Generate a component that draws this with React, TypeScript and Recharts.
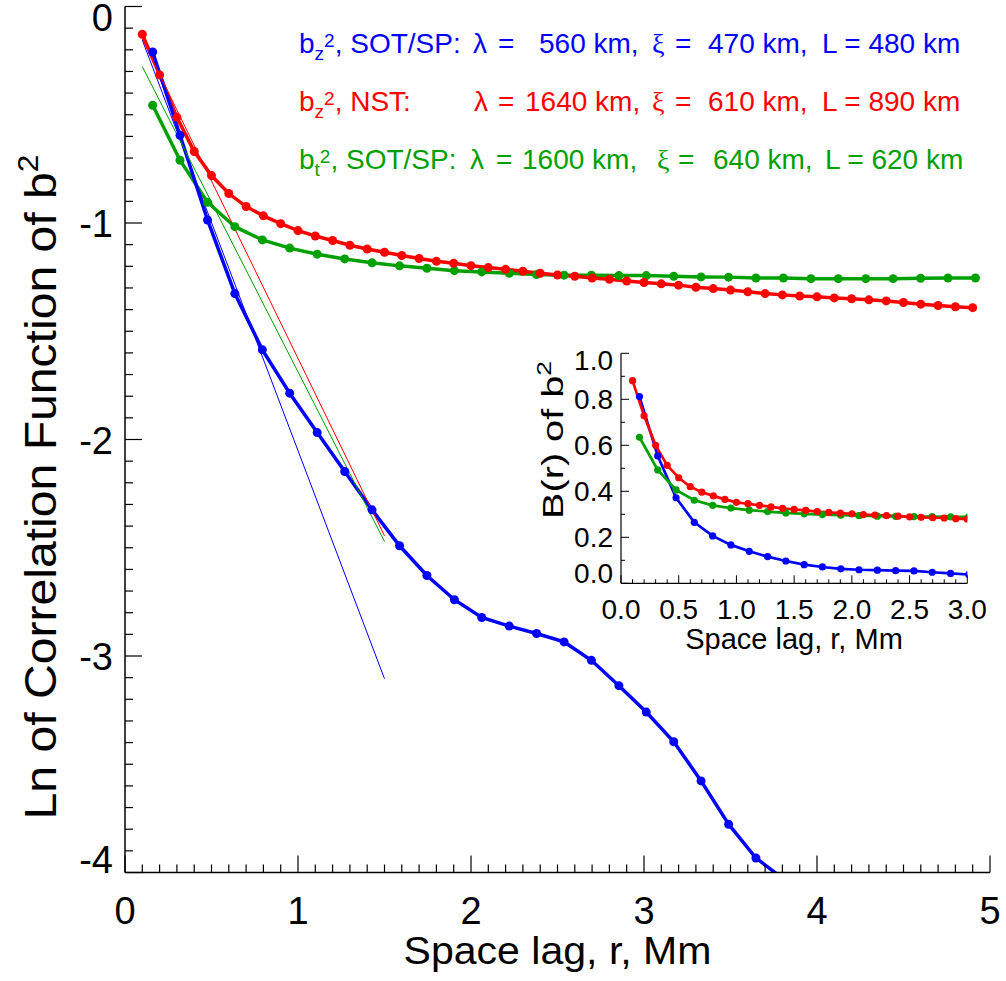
import { LineChart, Line, XAxis, YAxis } from "recharts";

// space lag (Mm) of the NST series, 0.1 Mm steps
const nstLag = [
  0.1, 0.2, 0.3, 0.4, 0.5, 0.6, 0.7, 0.8, 0.9, 1.0,
  1.1, 1.2, 1.3, 1.4, 1.5, 1.6, 1.7, 1.8, 1.9, 2.0,
  2.1, 2.2, 2.3, 2.4, 2.5, 2.6, 2.7, 2.8, 2.9, 3.0,
  3.1, 3.2, 3.3, 3.4, 3.5, 3.6, 3.7, 3.8, 3.9, 4.0,
  4.1, 4.2, 4.3, 4.4, 4.5, 4.6, 4.7, 4.8, 4.9,
];
// ln B(r) of bz^2, NST
const nstLn = [
  -0.128, -0.316, -0.512, -0.67, -0.781, -0.864, -0.924, -0.967, -1.003, -1.035,
  -1.06, -1.081, -1.103, -1.12, -1.135, -1.15, -1.164, -1.177, -1.186, -1.197,
  -1.206, -1.214, -1.223, -1.232, -1.24, -1.246, -1.254, -1.26, -1.268, -1.275,
  -1.281, -1.287, -1.297, -1.303, -1.31, -1.318, -1.326, -1.332, -1.337, -1.341,
  -1.346, -1.35, -1.355, -1.36, -1.367, -1.375, -1.381, -1.387, -1.391,
];

// space lag (Mm) of the SOT/SP series
const spLag = [
  0.16, 0.318, 0.477, 0.635, 0.794, 0.952, 1.111, 1.27, 1.428, 1.587,
  1.745, 1.904, 2.062, 2.221, 2.379, 2.538, 2.696, 2.855, 3.013, 3.172,
  3.33, 3.489, 3.647, 3.806, 3.965, 4.123, 4.282, 4.44, 4.599, 4.757, 4.916,
];
// ln B(r) of bz^2, SOT/SP
const bzSpLn = [
  -0.21, -0.595, -0.986, -1.326, -1.586, -1.786, -1.968, -2.148, -2.325, -2.491,
  -2.628, -2.74, -2.822, -2.862, -2.896, -2.935, -3.02, -3.137, -3.259, -3.396,
  -3.577, -3.777, -3.933, -4.03,
];
// ln B(r) of bt^2, SOT/SP
const btSpLn = [
  -0.456, -0.71, -0.904, -1.017, -1.078, -1.116, -1.144, -1.166, -1.184, -1.198,
  -1.209, -1.22, -1.226, -1.232, -1.238, -1.241, -1.241, -1.243, -1.243, -1.246,
  -1.249, -1.25, -1.254, -1.254, -1.257, -1.257, -1.257, -1.257, -1.255, -1.254, -1.254,
];

// straight-line fits (end points)
const fitLag = [0.1, 1.5];
const bzSpFit = [-0.155, -3.105];
const nstFit = [-0.15, -2.445];
const btSpFit = [-0.278, -2.471];

// inset: B(r) itself, up to 3 Mm
const nstB = [
  0.881, 0.728, 0.6, 0.513, 0.459, 0.42, 0.396, 0.38, 0.365, 0.352,
  0.346, 0.339, 0.332, 0.326, 0.321, 0.317, 0.312, 0.308, 0.305, 0.302,
  0.299, 0.297, 0.294, 0.292, 0.289, 0.287, 0.285, 0.284, 0.281, 0.279,
];
const bzSpB = [
  0.812, 0.554, 0.372, 0.265, 0.206, 0.167, 0.139, 0.116, 0.097, 0.081,
  0.071, 0.063, 0.059, 0.057, 0.055, 0.054, 0.048, 0.043, 0.038,
];
const btSpB = [
  0.635, 0.493, 0.406, 0.361, 0.339, 0.327, 0.318, 0.312, 0.306, 0.302,
  0.299, 0.296, 0.294, 0.292, 0.291, 0.29, 0.29, 0.289, 0.289,
];

const legendRows = [
  { name: "SOT/SP:", sub: "z", color: "#0000ff", lambda: "560 km,", xi: "470 km,", L: "L = 480 km" },
  { name: "NST:", sub: "z", color: "#ff0000", lambda: "1640 km,", xi: "610 km,", L: "L = 890 km" },
  { name: "SOT/SP:", sub: "t", color: "#00a000", lambda: "1600 km,", xi: "640 km,", L: "L = 620 km" },
];

const BLUE = "#0000ff";
const RED = "#ff0000";
const GREEN = "#00a000";
const FONT = "'Liberation Sans', Arial, Helvetica, sans-serif";

const pts = (xs: number[], ys: number[]) => ys.map((y, i) => ({ x: xs[i], y }));

const mainXTicks = Array.from({ length: 51 }, (_, i) => i / 10);
const mainYTicks = Array.from({ length: 41 }, (_, i) => -i / 10);
const insetXTicks = Array.from({ length: 31 }, (_, i) => i / 10);
const insetYTicks = Array.from({ length: 11 }, (_, i) => i / 10);

// ticks point into the plot, labels only on the majors
const mainBottomTick = (p: any) => {
  const v = p.payload.value;
  const major = Math.round(v * 10) % 10 === 0;
  return (
    <g>
      <line x1={p.x} x2={p.x} y1={p.y} y2={p.y - (major ? 17 : 8)} stroke="#000" strokeWidth={1.2} />
      {major && (
        <text x={p.x} y={p.y + 51.5} textAnchor="middle" fontSize={38} fontFamily={FONT} fill="#000">
          {String(v)}
        </text>
      )}
    </g>
  );
};
const mainTopTick = (p: any) => {
  const major = Math.round(p.payload.value * 10) % 10 === 0;
  return <line x1={p.x} x2={p.x} y1={p.y} y2={p.y + (major ? 17 : 8)} stroke="#000" strokeWidth={1.2} />;
};
const mainLeftTick = (p: any) => {
  const v = p.payload.value;
  const major = Math.round(v * 10) % 10 === 0;
  const dy = v === 0 ? 24.5 : v === -4 ? 0 : 14;
  return (
    <g>
      <line x1={p.x} x2={p.x + (major ? 17 : 8)} y1={p.y} y2={p.y} stroke="#000" strokeWidth={1.2} />
      {major && (
        <text x={p.x - 12} y={p.y + dy} textAnchor="end" fontSize={38} fontFamily={FONT} fill="#000">
          {String(v)}
        </text>
      )}
    </g>
  );
};
const mainRightTick = (p: any) => {
  const major = Math.round(p.payload.value * 10) % 10 === 0;
  return <line x1={p.x} x2={p.x - (major ? 17 : 8)} y1={p.y} y2={p.y} stroke="#000" strokeWidth={1.2} />;
};

const insetBottomTick = (p: any) => {
  const v = p.payload.value;
  const major = Math.round(v * 10) % 5 === 0;
  return (
    <g>
      <line x1={p.x} x2={p.x} y1={p.y} y2={p.y - (major ? 8 : 4)} stroke="#000" strokeWidth={1} />
      {major && (
        <text x={p.x} y={p.y + 36} textAnchor="middle" fontSize={28} fontFamily={FONT} fill="#000">
          {v.toFixed(1)}
        </text>
      )}
    </g>
  );
};
const insetTopTick = (p: any) => {
  const major = Math.round(p.payload.value * 10) % 5 === 0;
  return <line x1={p.x} x2={p.x} y1={p.y} y2={p.y + (major ? 8 : 4)} stroke="#000" strokeWidth={1} />;
};
const insetLeftTick = (p: any) => {
  const v = p.payload.value;
  const major = Math.round(v * 10) % 2 === 0;
  const dy = v === 1 ? 16.7 : v === 0 ? 0 : 10;
  return (
    <g>
      <line x1={p.x} x2={p.x + (major ? 8 : 4)} y1={p.y} y2={p.y} stroke="#000" strokeWidth={1} />
      {major && (
        <text x={p.x - 8} y={p.y + dy} textAnchor="end" fontSize={28} fontFamily={FONT} fill="#000">
          {v.toFixed(1)}
        </text>
      )}
    </g>
  );
};
const insetRightTick = (p: any) => {
  const major = Math.round(p.payload.value * 10) % 2 === 0;
  return <line x1={p.x} x2={p.x - (major ? 8 : 4)} y1={p.y} y2={p.y} stroke="#000" strokeWidth={1} />;
};

const frame = { stroke: "#000", strokeWidth: 1.5 };
const insetFrame = { stroke: "#000", strokeWidth: 1.2 };

// dots below the -4 floor are not drawn (the line itself is clipped by the axis)
const dotFor = (color: string, r: number, floor: number) => (p: any) => {
  const key = `d-${p.index}`;
  if (p.payload.y < floor || p.cy == null) return <g key={key} />;
  return <circle key={key} cx={p.cx} cy={p.cy} r={r} fill={color} />;
};

const dataLine = (id: string, data: any[], color: string, w: number, r: number, floor: number) => (
  <Line
    key={id}
    xAxisId="b"
    yAxisId="l"
    data={data}
    dataKey="y"
    stroke={color}
    strokeWidth={w}
    dot={dotFor(color, r, floor)}
    activeDot={false}
    isAnimationActive={false}
  />
);
const fitLine = (id: string, data: any[], color: string) => (
  <Line
    key={id}
    xAxisId="b"
    yAxisId="l"
    data={data}
    dataKey="y"
    stroke={color}
    strokeWidth={1}
    dot={false}
    activeDot={false}
    isAnimationActive={false}
  />
);

const MainChart = () => (
  <LineChart width={1006} height={981} margin={{ top: 6.5, right: 16, bottom: 0, left: 0 }}>
    <XAxis xAxisId="b" type="number" dataKey="x" domain={[0, 5]} ticks={mainXTicks} interval={0}
      allowDataOverflow height={108.5} tickSize={0} tickMargin={0} tickLine={false} axisLine={frame} tick={mainBottomTick} />
    <XAxis xAxisId="t" orientation="top" type="number" dataKey="x" domain={[0, 5]} ticks={mainXTicks} interval={0}
      allowDataOverflow height={0} tickSize={0} tickMargin={0} tickLine={false} axisLine={frame} tick={mainTopTick} />
    <YAxis yAxisId="l" type="number" domain={[-4, 0]} ticks={mainYTicks} interval={0}
      allowDataOverflow width={125} tickSize={0} tickMargin={0} tickLine={false} axisLine={frame} tick={mainLeftTick} />
    <YAxis yAxisId="r" orientation="right" type="number" domain={[-4, 0]} ticks={mainYTicks} interval={0}
      allowDataOverflow width={0} tickSize={0} tickMargin={0} tickLine={false} axisLine={frame} tick={mainRightTick} />
    {dataLine("bt", pts(spLag, btSpLn), GREEN, 3.5, 4.5, -4)}
    {dataLine("nst", pts(nstLag, nstLn), RED, 3.5, 4.5, -4)}
    {dataLine("bz", pts(spLag, bzSpLn), BLUE, 3.5, 4.5, -4)}
    {fitLine("fbz", pts(fitLag, bzSpFit), BLUE)}
    {fitLine("fnst", pts(fitLag, nstFit), RED)}
    {fitLine("fbt", pts(fitLag, btSpFit), GREEN)}
  </LineChart>
);

const InsetChart = () => (
  <LineChart width={440} height={320} margin={{ top: 13.3, right: 32.7, bottom: 0, left: 0 }}>
    <XAxis xAxisId="b" type="number" dataKey="x" domain={[0, 3]} ticks={insetXTicks} interval={0}
      allowDataOverflow height={76.7} tickSize={0} tickMargin={0} tickLine={false} axisLine={insetFrame} tick={insetBottomTick} />
    <XAxis xAxisId="t" orientation="top" type="number" dataKey="x" domain={[0, 3]} ticks={insetXTicks} interval={0}
      allowDataOverflow height={0} tickSize={0} tickMargin={0} tickLine={false} axisLine={insetFrame} tick={insetTopTick} />
    <YAxis yAxisId="l" type="number" domain={[0, 1]} ticks={insetYTicks} interval={0}
      allowDataOverflow width={61} tickSize={0} tickMargin={0} tickLine={false} axisLine={insetFrame} tick={insetLeftTick} />
    <YAxis yAxisId="r" orientation="right" type="number" domain={[0, 1]} ticks={insetYTicks} interval={0}
      allowDataOverflow width={0} tickSize={0} tickMargin={0} tickLine={false} axisLine={insetFrame} tick={insetRightTick} />
    {dataLine("ibz", pts(spLag, bzSpB), BLUE, 2.7, 3.6, 0)}
    {dataLine("ibt", pts(spLag, btSpB), GREEN, 2.7, 3.6, 0)}
    {dataLine("instB", pts(nstLag, nstB), RED, 2.7, 3.6, 0)}
  </LineChart>
);

const lambdaX = [473, 474, 470];
const lambdaEqX = [498, 498, 496];
const lambdaValX = [539, 525, 522];
const xiX = [652, 652, 657];
const xiEqX = [675, 675, 678];
const xiValX = [708, 708, 713];
const lX = [822, 822, 825];
const rowY = [53, 111, 169];

const Texts = () => (
  <svg width={1006} height={981} style={{ position: "absolute", left: 0, top: 0, pointerEvents: "none" }}>
    {legendRows.map((r, i) => (
      <g key={i} fill={r.color} fontFamily={FONT} fontSize={28} style={{ whiteSpace: "pre" }}>
        <text x={299} y={rowY[i]}>
          <tspan>b</tspan>
          <tspan dy={7} fontSize={19}>{r.sub}</tspan>
          <tspan dy={-13} fontSize={19}>2</tspan>
          <tspan dy={6}>{", " + r.name}</tspan>
        </text>
        <text x={lambdaX[i]} y={rowY[i]}>λ</text>
        <text x={lambdaEqX[i]} y={rowY[i]}>=</text>
        <text x={lambdaValX[i]} y={rowY[i]}>{r.lambda}</text>
        <text x={xiX[i]} y={rowY[i]} fontFamily="'Liberation Serif', 'DejaVu Serif', serif">ξ</text>
        <text x={xiEqX[i]} y={rowY[i]}>=</text>
        <text x={xiValX[i]} y={rowY[i]}>{r.xi}</text>
        <text x={lX[i]} y={rowY[i]}>{r.L}</text>
      </g>
    ))}
    <text x={557.5} y={964} textAnchor="middle" fontSize={38} fontFamily={FONT}
      textLength={308} lengthAdjust="spacingAndGlyphs">
      Space lag, r, Mm
    </text>
    <text x={56} y={487} textAnchor="middle" fontSize={44} fontFamily={FONT}
      textLength={665} lengthAdjust="spacingAndGlyphs" transform="rotate(-90 56 487)">
      Ln of Correlation Function of b<tspan dy={-18} fontSize={29}>2</tspan>
    </text>
    <text x={794} y={649} textAnchor="middle" fontSize={29} fontFamily={FONT}>
      Space lag, r, Mm
    </text>
    <text x={563} y={440} textAnchor="middle" fontSize={30} fontFamily={FONT}
      textLength={158} lengthAdjust="spacingAndGlyphs" transform="rotate(-90 563 440)">
      B(r) of b<tspan dy={-12} fontSize={20}>2</tspan>
    </text>
  </svg>
);

const App = () => (
  <div style={{ position: "absolute", left: 0, top: 0, width: 1006, height: 981, background: "#fff" }}>
    <div style={{ position: "absolute", left: 0, top: 0 }}>
      <MainChart />
    </div>
    <div style={{ position: "absolute", left: 560, top: 340 }}>
      <InsetChart />
    </div>
    <Texts />
  </div>
);

export default App;
